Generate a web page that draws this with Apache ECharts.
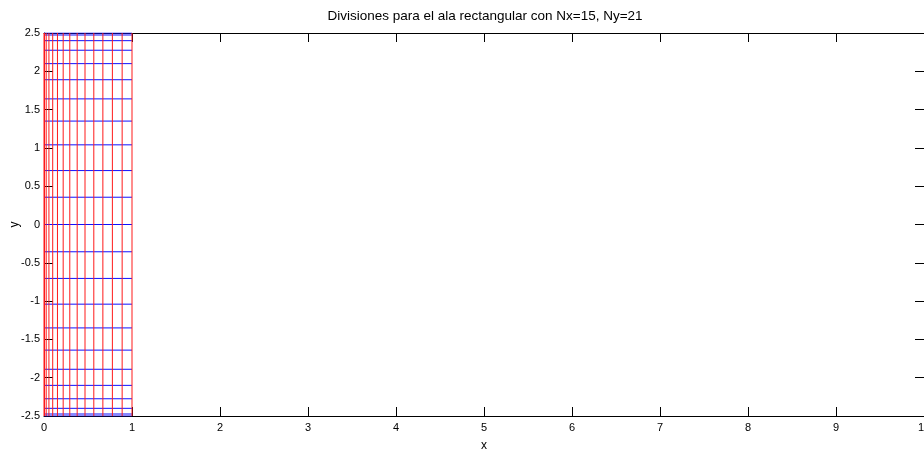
<!DOCTYPE html>
<html>
<head>
<meta charset="utf-8">
<script src="https://cdn.jsdelivr.net/npm/echarts@6/dist/echarts.min.js"></script>
<style>
  html, body { margin: 0; padding: 0; background: #fff; }
  #chart { width: 924px; height: 450px; }
</style>
</head>
<body>
<div id="chart"></div>
<script>
// posiciones de las divisiones
const xDiv = [0, 0.006, 0.025, 0.056, 0.099, 0.153, 0.218, 0.293, 0.377, 0.466, 0.566, 0.669, 0.777, 0.888, 1]
const yDiv = [-2.5, -2.474, -2.4, -2.275, -2.1, -1.89, -1.64, -1.35, -1.04, -0.704, -0.356, 0,
  0.356, 0.704, 1.04, 1.35, 1.64, 1.89, 2.1, 2.275, 2.4, 2.474, 2.5]
const xRange = [0, 10]
const yRange = [-2.5, 2.5]
const xTicks = [0, 1, 2, 3, 4, 5, 6, 7, 8, 9, 10]
const yTicks = [-2.5, -2, -1.5, -1, -0.5, 0, 0.5, 1, 1.5, 2, 2.5]

const font = 'Liberation Sans, Arial, sans-serif'
const chart = echarts.init(document.getElementById('chart'))

function axisBase (min, max, interval) {
  return {
    type: 'value',
    min: min,
    max: max,
    interval: interval,
    axisLine: { show: true, onZero: false, lineStyle: { color: '#000', width: 1 } },
    axisTick: { show: true, inside: true, length: 9, lineStyle: { color: '#000' } },
    splitLine: { show: false }
  }
}

function segment (pts, color) {
  return {
    type: 'line',
    data: pts,
    showSymbol: false,
    silent: true,
    color: color,
    lineStyle: { color: color, width: 1 }
  }
}

// primero las horizontales (azul), luego las verticales (rojo)
const series = []
yDiv.forEach(y => series.push(segment([[xDiv[0], y], [xDiv[xDiv.length - 1], y]], '#1010ff')))
xDiv.forEach(x => series.push(segment([[x, yRange[0]], [x, yRange[1]]], '#ff1a1a')))

const option = {
  animation: false,
  backgroundColor: '#fff',
  title: {
    text: 'Divisiones para el ala rectangular con Nx=15, Ny=21',
    left: 480,
    textAlign: 'center',
    top: 4,
    textStyle: { fontFamily: font, fontSize: 13.5, fontWeight: 'normal', color: '#000' }
  },
  grid: { left: 44, top: 33, width: 880, bottom: 34, outerBoundsMode: 'none', containLabel: false },
  xAxis: [
    Object.assign(axisBase(xRange[0], xRange[1], 1), {
      position: 'bottom',
      name: 'x',
      nameLocation: 'middle',
      nameGap: 24,
      nameMoveOverlap: false,
      nameTextStyle: { fontFamily: font, fontSize: 12, color: '#000' },
      axisLabel: { margin: 6, fontFamily: font, fontSize: 11, color: '#000', showMaxLabel: true,
        formatter: v => xTicks.includes(v) ? String(v) : '' }
    }),
    Object.assign(axisBase(xRange[0], xRange[1], 1), {
      position: 'top',
      axisLabel: { show: false }
    })
  ],
  yAxis: [
    Object.assign(axisBase(yRange[0], yRange[1], 0.5), {
      position: 'left',
      name: 'y',
      nameLocation: 'middle',
      nameGap: 23,
      nameRotate: 90,
      nameMoveOverlap: false,
      nameTextStyle: { fontFamily: font, fontSize: 12, color: '#000' },
      axisLabel: { margin: 4, fontFamily: font, fontSize: 11, color: '#000',
        formatter: v => yTicks.includes(v) ? String(v) : '' }
    }),
    Object.assign(axisBase(yRange[0], yRange[1], 0.5), {
      position: 'right',
      axisLabel: { show: false }
    })
  ],
  series: series
}
chart.setOption(option)
</script>
</body>
</html>
